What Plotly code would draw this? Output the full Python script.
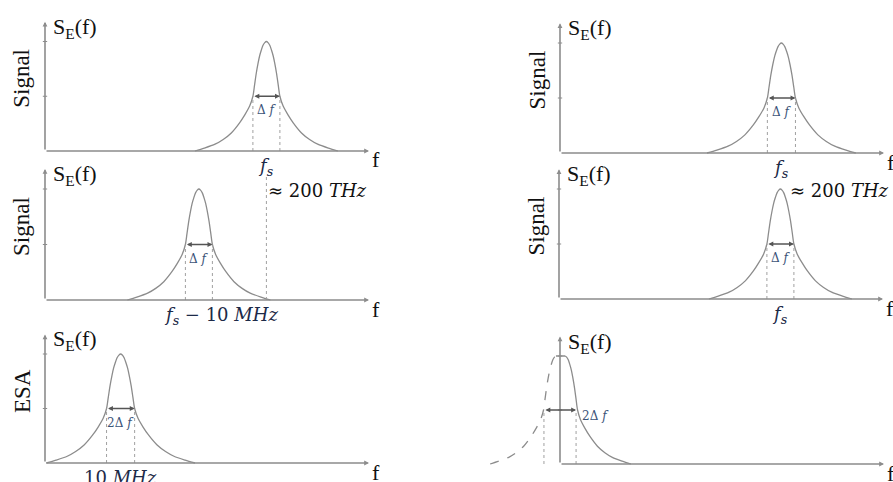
import plotly.graph_objects as go

# ---------------- data ----------------
# Line-shape profile: offset from the peak centre in units of the FWHM (Δf),
# and the normalised spectral density S_E(f) at that offset.
PROFILE_OFFSETS = [0.0, 0.06, 0.125, 0.19, 0.25, 0.31, 0.375, 0.44, 0.5, 0.62, 0.8, 1.0,
                   1.3, 1.6, 1.9, 2.3, 2.65]
PROFILE_VALUES = [1.0, 0.99, 0.965, 0.92, 0.87, 0.80, 0.71, 0.60, 0.5, 0.41, 0.33, 0.255,
                  0.165, 0.105, 0.062, 0.026, 0.0]

# Six panels: peak centre (frequency units on each axis) and FWHM
PANEL_CENTRES = [8.2, 5.7, 2.8, 8.2, 8.2, 0.0]
PANEL_FWHM = [1.0, 1.0, 1.04, 1.04, 1.0, 1.19]
# last panel: folded spectrum, left (dashed) and right (solid) halves
FOLD_LEFT_CENTRE, FOLD_RIGHT_CENTRE, FOLD_HALF_FWHM = -0.15, 0.19, 0.92
F_S = 8.2            # optical carrier position (dotted line in panel 2)
F_S_LINE_TOP = 1.11  # height of that dotted line
AXIS_LENGTH = 12.0
AXIS_TOP = 1.18
Y_TICKS = [0.5, 1.0]

Y_TITLES = ["Signal", "Signal", "ESA", "Signal", "Signal", ""]
FWHM_LABELS = ["Δ <i>f</i>", "Δ <i>f</i>", "2Δ <i>f</i>", "Δ <i>f</i>", "Δ <i>f</i>", "2Δ <i>f</i>"]
TICK_LABELS = ["<i>f<sub>s</sub></i>", "<i>f<sub>s</sub></i> − 10 <i>MHz</i>", "10 <i>MHz</i>",
               "<i>f<sub>s</sub></i>", "<i>f<sub>s</sub></i>", ""]
APPROX_LABEL = "≈ 200 <i>THz</i>"

# ---------------- layout geometry (pixels) ----------------
W, H = 893, 482
UNIT_X = 27.0
# x0 (y-axis pixel), baseline pixel, pixels per unit of S_E
GEOM = [(45, 151, 109.5), (45, 300, 111), (45, 463, 109),
        (560, 153, 110), (559, 299, 110), (560, 464, 108)]
XRANGES = [(-0.3, 12.6), (-0.3, 12.6), (-0.3, 12.6), (-3.3, 12.2), (-3.3, 12.2), (-3.3, 12.2)]
YRANGE = (-0.08, 1.26)

CURVE_COLOR = "#8c8c8c"
AXIS_COLOR = "#8c8c8c"
DOT_COLOR = "#a0a0a0"
SERIF = "Liberation Serif"
MATH = "DejaVu Serif"
NAVY = "#1d2a48"
BLUEGRAY = "#3b5378"


def px(x):
    return x / W


def py(y):
    return 1 - y / H


fig = go.Figure()
layout_axes = {}
annotations = []
shapes = []

for i in range(6):
    k = "" if i == 0 else str(i + 1)
    xr, yr = "x" + k, "y" + k
    x0, base, uy = GEOM[i]
    xmin, xmax = XRANGES[i]
    layout_axes["xaxis" + k] = dict(
        domain=[px(x0 + xmin * UNIT_X), px(x0 + xmax * UNIT_X)],
        range=[xmin, xmax], visible=False, anchor=yr, fixedrange=True)
    layout_axes["yaxis" + k] = dict(
        domain=[py(base - YRANGE[0] * uy), py(base - YRANGE[1] * uy)],
        range=list(YRANGE), visible=False, anchor=xr, fixedrange=True)

    c, w = PANEL_CENTRES[i], PANEL_FWHM[i]
    line_style = dict(color=CURVE_COLOR, width=1.3, shape="spline", smoothing=0.8)
    if i == 5:
        left_x = [FOLD_LEFT_CENTRE - o * FOLD_HALF_FWHM for o in PROFILE_OFFSETS][::-1]
        right_x = [FOLD_RIGHT_CENTRE + o * FOLD_HALF_FWHM for o in PROFILE_OFFSETS]
        fig.add_trace(go.Scatter(x=left_x, y=PROFILE_VALUES[::-1], mode="lines", xaxis=xr, yaxis=yr,
                                 line=dict(line_style, dash="dash"),
                                 hoverinfo="skip", showlegend=False))
        fig.add_trace(go.Scatter(x=right_x, y=PROFILE_VALUES, mode="lines", xaxis=xr, yaxis=yr,
                                 line=line_style, hoverinfo="skip", showlegend=False))
        fig.add_trace(go.Scatter(x=[FOLD_LEFT_CENTRE, FOLD_RIGHT_CENTRE], y=[1.0, 1.0], mode="lines",
                                 xaxis=xr, yaxis=yr, line=dict(color=CURVE_COLOR, width=1.3),
                                 hoverinfo="skip", showlegend=False))
    else:
        left_x = [c - o * w for o in PROFILE_OFFSETS][::-1]
        right_x = [c + o * w for o in PROFILE_OFFSETS]
        fig.add_trace(go.Scatter(x=left_x + right_x[1:], y=PROFILE_VALUES[::-1] + PROFILE_VALUES[1:],
                                 mode="lines", xaxis=xr, yaxis=yr, line=line_style,
                                 hoverinfo="skip", showlegend=False))

    # dotted FWHM drop lines
    for xv in (c - w / 2, c + w / 2):
        shapes.append(dict(type="line", xref=xr, yref=yr, x0=xv, x1=xv, y0=0, y1=0.5,
                           line=dict(color=DOT_COLOR, width=1, dash="dot")))
    if i == 1:
        shapes.append(dict(type="line", xref=xr, yref=yr, x0=F_S, x1=F_S, y0=0, y1=F_S_LINE_TOP,
                           line=dict(color=DOT_COLOR, width=1, dash="dot")))

    # y ticks
    for t in Y_TICKS:
        shapes.append(dict(type="line", xref=xr, yref=yr, x0=-0.08, x1=0.08, y0=t, y1=t,
                           line=dict(color=AXIS_COLOR, width=1)))

    # axes with arrows
    annotations.append(dict(x=0, y=AXIS_TOP, ax=0, ay=0, xref=xr, yref=yr, axref=xr, ayref=yr,
                            text="", showarrow=True, arrowhead=2, arrowsize=0.6, arrowwidth=1.6,
                            arrowcolor=AXIS_COLOR, standoff=0))
    annotations.append(dict(x=AXIS_LENGTH, y=0, ax=0, ay=0, xref=xr, yref=yr, axref=xr, ayref=yr,
                            text="", showarrow=True, arrowhead=2, arrowsize=0.6, arrowwidth=1.6,
                            arrowcolor=AXIS_COLOR, standoff=0))
    # FWHM double arrow
    annotations.append(dict(x=c + w / 2, y=0.5, ax=c - w / 2, ay=0.5, xref=xr, yref=yr,
                            axref=xr, ayref=yr, text="", showarrow=True, arrowside="end+start",
                            arrowhead=2, arrowsize=0.7, arrowwidth=1.4, arrowcolor="#555555",
                            standoff=0, startstandoff=0))

    arrow_px = base - AXIS_TOP * uy
    # S_E(f)
    annotations.append(dict(x=px(x0 + 6), y=py(arrow_px - 10), xref="paper", yref="paper",
                            xanchor="left", yanchor="top", showarrow=False,
                            text="S<sub>E</sub>(f)", font=dict(family=SERIF, size=22, color="#111111")))
    # f axis label
    annotations.append(dict(x=px(x0 + AXIS_LENGTH * UNIT_X + 1), y=py(base + 9), xref="paper",
                            yref="paper", xanchor="left", yanchor="middle", showarrow=False,
                            text="f", font=dict(family=SERIF, size=22, color="#111111")))
    # y title
    if Y_TITLES[i]:
        annotations.append(dict(x=px(x0 - 23), y=py(base - 0.55 * uy - 12), xref="paper",
                                yref="paper", xanchor="center", yanchor="middle", showarrow=False,
                                textangle=-90, text=Y_TITLES[i],
                                font=dict(family=SERIF, size=23, color="#111111")))
    # FWHM label
    if i == 5:
        annotations.append(dict(x=c + w / 2, y=py(base - 0.5 * uy + 6), xref=xr, yref="paper",
                                xanchor="left", yanchor="middle", xshift=4, showarrow=False,
                                text=FWHM_LABELS[i], font=dict(family=MATH, size=12, color=BLUEGRAY)))
    else:
        annotations.append(dict(x=c, y=py(base - 0.5 * uy + 14), xref=xr, yref="paper",
                                xanchor="center", yanchor="middle", showarrow=False,
                                text=FWHM_LABELS[i], font=dict(family=MATH, size=12, color=BLUEGRAY)))
    # tick label under the peak
    if TICK_LABELS[i]:
        xs = 22 if i == 1 else 0
        ys = 14 if i == 2 else 16
        annotations.append(dict(x=c, y=py(base + ys), xref=xr, yref="paper", xanchor="center",
                                yanchor="middle", xshift=xs, showarrow=False, text=TICK_LABELS[i],
                                font=dict(family=MATH, size=18, color=NAVY)))
    # ≈ 200 THz
    if i in (1, 4):
        xpos = F_S if i == 1 else c
        annotations.append(dict(x=xpos, y=py(base - 0.99 * uy), xref=xr, yref="paper",
                                xanchor="left", yanchor="middle", xshift=0 if i == 1 else 8,
                                showarrow=False, text=APPROX_LABEL,
                                font=dict(family=MATH, size=18, color="#111111")))

fig.update_layout(
    width=W, height=H, margin=dict(l=0, r=0, t=0, b=0),
    paper_bgcolor="white", plot_bgcolor="rgba(0,0,0,0)",
    showlegend=False, annotations=annotations, shapes=shapes, **layout_axes)

fig.write_html("out.html", config={"displayModeBar": False},
               post_script="document.body.style.margin='0';")
